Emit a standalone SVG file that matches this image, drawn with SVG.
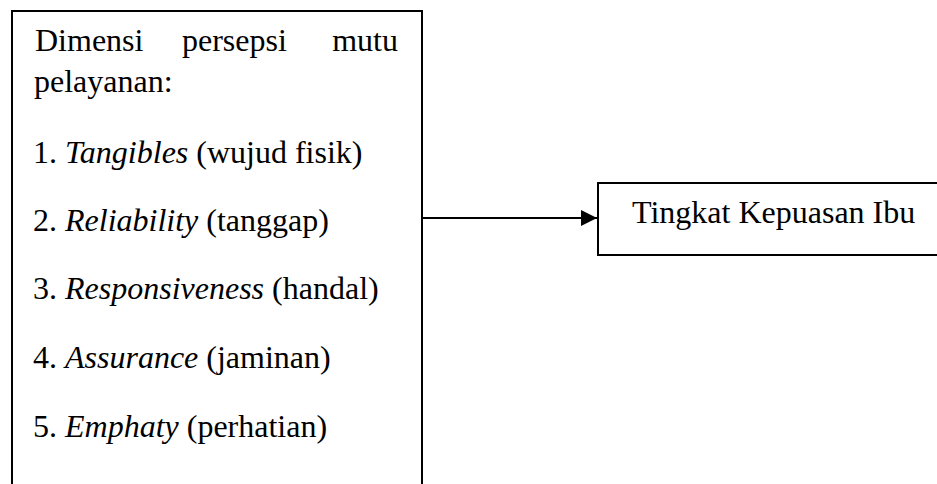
<svg xmlns="http://www.w3.org/2000/svg" width="937" height="484" viewBox="0 0 937 484">
<style>
.box{fill:#fff;stroke:#000;stroke-width:2}
.t{font-family:"Liberation Serif","Times New Roman",serif;font-size:32px;fill:#000}
.i{font-style:italic}
.c{stroke:#000;stroke-width:2;fill:none}
</style>
<defs>
<marker id="ah" markerWidth="8" markerHeight="8" refX="8" refY="4" orient="auto" markerUnits="strokeWidth">
<path d="M0,0 L8,4 L0,8 Z" fill="#000"/>
</marker>
</defs>
<rect width="937" height="484" fill="#fff"/>
<g id="dimensi">
<rect class="box" x="12" y="11" width="410" height="490"/>
<text class="t" x="35" y="51">Dimensi</text>
<text class="t" x="182" y="51">persepsi</text>
<text class="t" x="398" y="51" text-anchor="end">mutu</text>
<text class="t" x="34" y="92">pelayanan:</text>
<text class="t" x="33" y="163">1. <tspan class="i">Tangibles</tspan> (wujud fisik)</text>
<text class="t" x="33" y="231">2. <tspan class="i">Reliability</tspan> (tanggap)</text>
<text class="t" x="33" y="299">3. <tspan class="i">Responsiveness</tspan> (handal)</text>
<text class="t" x="33" y="368">4. <tspan class="i">Assurance</tspan> (jaminan)</text>
<text class="t" x="33" y="437">5. <tspan class="i">Emphaty</tspan> (perhatian)</text>
</g>
<g id="kepuasan">
<rect class="box" x="598" y="183" width="350" height="72"/>
<text class="t" x="632" y="223">Tingkat Kepuasan Ibu</text>
</g>
<g id="connectors">
<line class="c" x1="422" y1="218" x2="597" y2="218" marker-end="url(#ah)"/>
</g>
</svg>
